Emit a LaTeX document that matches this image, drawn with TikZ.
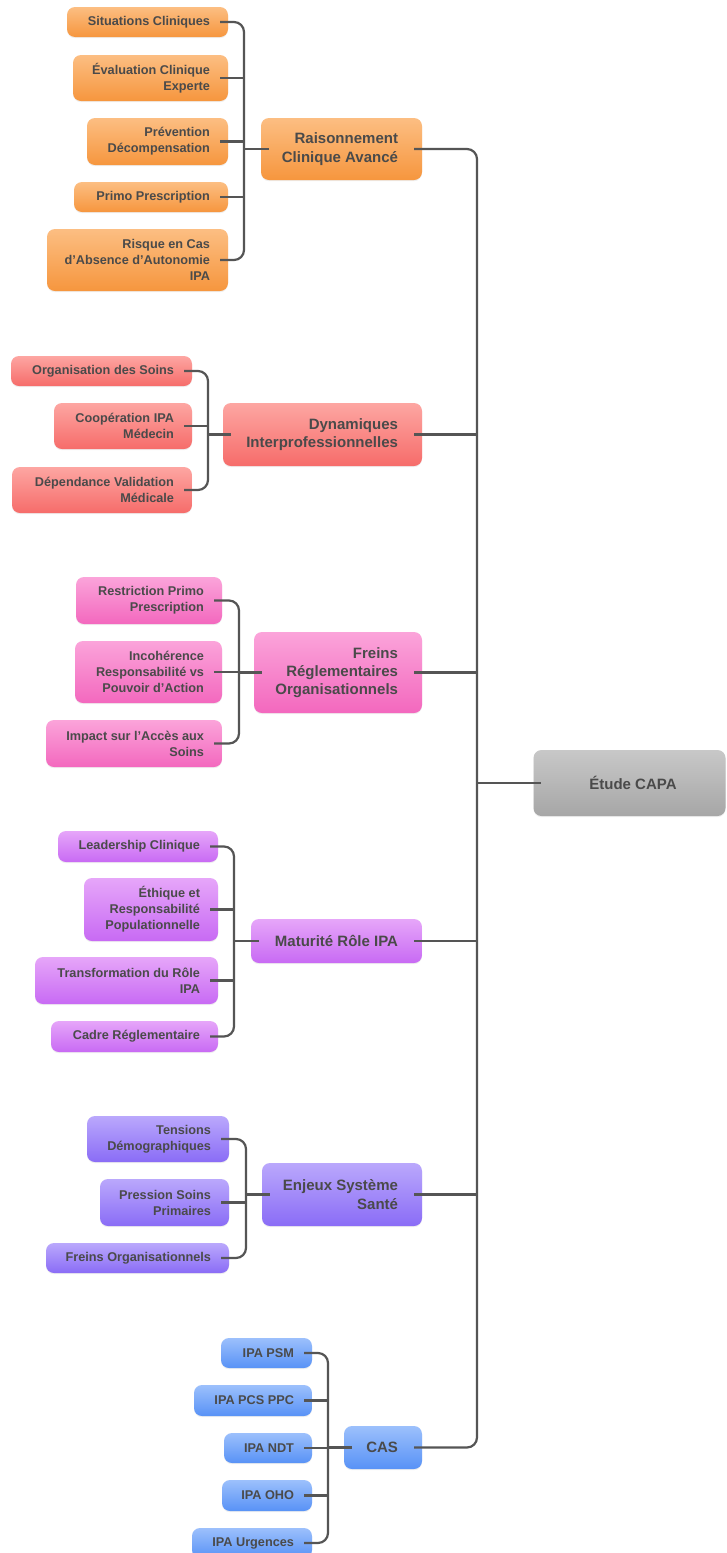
\documentclass[tikz,border=0pt]{standalone}
\usepackage{fontspec}
\setmainfont{Liberation Sans}
\usetikzlibrary{shadows}
\definecolor{txtc}{HTML}{4A4A4A}
\definecolor{linec}{HTML}{555555}
\tikzset{
  card/.style={rounded corners=8pt, inner sep=0pt, draw=none,
    drop shadow={opacity=0.12, shadow xshift=0pt, shadow yshift=-1.2pt}},
  lbl/.style={align=right, inner sep=0pt, text=txtc,
    font=\fontsize{12.7}{16}\selectfont\bfseries},
  mainlbl/.style={align=right, inner sep=0pt, text=txtc,
    font=\fontsize{15}{18.3}\selectfont\bfseries},
  conn/.style={draw=linec, line width=2.2pt, rounded corners=10pt},
  orangec/.style={top color={rgb,255:red,252;green,190;blue,130}, bottom color={rgb,255:red,246;green,150;blue,62}},
  redc/.style={top color={rgb,255:red,253;green,166;blue,162}, bottom color={rgb,255:red,246;green,108;blue,106}},
  pinkc/.style={top color={rgb,255:red,251;green,164;blue,218}, bottom color={rgb,255:red,243;green,104;blue,190}},
  purplec/.style={top color={rgb,255:red,230;green,166;blue,249}, bottom color={rgb,255:red,200;green,106;blue,244}},
  violetc/.style={top color={rgb,255:red,186;green,168;blue,252}, bottom color={rgb,255:red,138;green,108;blue,246}},
  bluec/.style={top color={rgb,255:red,156;green,192;blue,252}, bottom color={rgb,255:red,88;green,146;blue,246}},
  greyc/.style={top color={rgb,255:red,200;green,200;blue,200}, bottom color={rgb,255:red,166;green,166;blue,166}},
}
% #1 name, #2 x1, #3 y1, #4 x2, #5 y2, #6 colour style, #7 label style, #8 right padding, #9 text
\newcommand{\cardnode}[9]{%
  \pgfmathsetmacro{\cardw}{#4-#2}\pgfmathsetmacro{\cardh}{#5-#3}%
  \node[card,#6,minimum width=\cardw pt,minimum height=\cardh pt] (#1) at ({(#2+#4)/2},{(#3+#5)/2}) {};
  \node[#7,anchor=east] (#1-t) at ([xshift=-#8pt]#1.east) {#9};}
\begin{document}
\begin{tikzpicture}[x=1pt,y=-1pt]
\useasboundingbox[fill=white] (0,0) rectangle (726,1553);
% Raisonnement Clinique Avancé
\cardnode{sc}{67}{7}{228}{37}{orangec}{lbl}{18}{Situations Cliniques}
\cardnode{ec}{73}{55}{228}{101}{orangec}{lbl}{18}{Évaluation Clinique\\Experte}
\cardnode{pd}{87}{118}{228}{165}{orangec}{lbl}{18}{Prévention\\Décompensation}
\cardnode{pp}{74}{182}{228}{212}{orangec}{lbl}{18}{Primo Prescription}
\cardnode{ra}{47}{229}{228}{291}{orangec}{lbl}{18}{Risque en Cas\\d’Absence d’Autonomie\\IPA}
\cardnode{rca}{261}{118}{422}{180}{orangec}{mainlbl}{24}{Raisonnement\\Clinique Avancé}
% Dynamiques
\cardnode{os}{11}{356}{192}{386}{redc}{lbl}{18}{Organisation des Soins}
\cardnode{ci}{54}{403}{192}{449}{redc}{lbl}{18}{Coopération IPA\\Médecin}
\cardnode{dv}{12}{467}{192}{513}{redc}{lbl}{18}{Dépendance Validation\\Médicale}
\cardnode{di}{223}{403}{422}{466}{redc}{mainlbl}{24}{Dynamiques\\Interprofessionnelles}
% Freins
\cardnode{rp}{76}{577}{222}{624}{pinkc}{lbl}{18}{Restriction Primo\\Prescription}
\cardnode{ir}{75}{641}{222}{703}{pinkc}{lbl}{18}{Incohérence\\Responsabilité vs\\Pouvoir d'Action}
\cardnode{ia}{46}{720}{222}{767}{pinkc}{lbl}{18}{Impact sur l'Accès aux\\Soins}
\cardnode{fr}{254}{632}{422}{713}{pinkc}{mainlbl}{24}{Freins\\Réglementaires\\Organisationnels}
% Maturité
\cardnode{lc}{58}{831}{218}{862}{purplec}{lbl}{18}{Leadership Clinique}
\cardnode{er}{84}{878}{218}{941}{purplec}{lbl}{18}{Éthique et\\Responsabilité\\Populationnelle}
\cardnode{tr}{35}{957}{218}{1004}{purplec}{lbl}{18}{Transformation du Rôle\\IPA}
\cardnode{cr}{51}{1021}{218}{1052}{purplec}{lbl}{18}{Cadre Réglementaire}
\cardnode{mr}{251}{919}{422}{963}{purplec}{mainlbl}{24}{Maturité Rôle IPA}
% Enjeux
\cardnode{td}{87}{1116}{229}{1162}{violetc}{lbl}{18}{Tensions\\Démographiques}
\cardnode{ps}{100}{1179}{229}{1226}{violetc}{lbl}{18}{Pression Soins\\Primaires}
\cardnode{fo}{46}{1243}{229}{1273}{violetc}{lbl}{18}{Freins Organisationnels}
\cardnode{es}{262}{1163}{422}{1226}{violetc}{mainlbl}{24}{Enjeux Système\\Santé}
% CAS
\cardnode{psm}{221}{1338}{312}{1368}{bluec}{lbl}{18}{IPA PSM}
\cardnode{pcs}{194}{1385}{312}{1416}{bluec}{lbl}{18}{IPA PCS PPC}
\cardnode{ndt}{224}{1433}{312}{1463}{bluec}{lbl}{18}{IPA NDT}
\cardnode{oho}{222}{1480}{312}{1511}{bluec}{lbl}{18}{IPA OHO}
\cardnode{urg}{192}{1528}{312}{1558}{bluec}{lbl}{18}{IPA Urgences}
\cardnode{cas}{344}{1426}{422}{1469}{bluec}{mainlbl}{24}{CAS}
% Root
\node[card,greyc,minimum width=192pt,minimum height=66pt] (root) at (629.5,783) {};
\node[mainlbl] (root-t) at (633,783) {Étude CAPA};
% buses
\coordinate (rcb) at (244,149);
\coordinate (dib) at (208,434.5);
\coordinate (frb) at (239,672.5);
\coordinate (mrb) at (234,941);
\coordinate (esb) at (246,1194.5);
\coordinate (casb) at (328,1447.5);
\coordinate (trk) at (477,783);
% orange
\draw[conn] ([xshift=-8pt]sc.east) -| (rcb) |- ([xshift=-8pt]ra.east);
\draw[conn] ([xshift=-8pt]ec.east) -- (ec.east -| rcb);
\draw[conn] ([xshift=-8pt]pd.east) -- (pd.east -| rcb);
\draw[conn] ([xshift=-8pt]pp.east) -- (pp.east -| rcb);
\draw[conn] (rcb) -- ([xshift=8pt]rca.west);
% red
\draw[conn] ([xshift=-8pt]os.east) -| (dib) |- ([xshift=-8pt]dv.east);
\draw[conn] ([xshift=-8pt]ci.east) -- (ci.east -| dib);
\draw[conn] (dib) -- ([xshift=8pt]di.west);
% pink
\draw[conn] ([xshift=-8pt]rp.east) -| (frb) |- ([xshift=-8pt]ia.east);
\draw[conn] ([xshift=-8pt]ir.east) -- (ir.east -| frb);
\draw[conn] (frb) -- ([xshift=8pt]fr.west);
% purple
\draw[conn] ([xshift=-8pt]lc.east) -| (mrb) |- ([xshift=-8pt]cr.east);
\draw[conn] ([xshift=-8pt]er.east) -- (er.east -| mrb);
\draw[conn] ([xshift=-8pt]tr.east) -- (tr.east -| mrb);
\draw[conn] (mrb) -- ([xshift=8pt]mr.west);
% violet
\draw[conn] ([xshift=-8pt]td.east) -| (esb) |- ([xshift=-8pt]fo.east);
\draw[conn] ([xshift=-8pt]ps.east) -- (ps.east -| esb);
\draw[conn] (esb) -- ([xshift=8pt]es.west);
% blue
\draw[conn] ([xshift=-8pt]psm.east) -| (casb) |- ([xshift=-8pt]urg.east);
\draw[conn] ([xshift=-8pt]pcs.east) -- (pcs.east -| casb);
\draw[conn] ([xshift=-8pt]ndt.east) -- (ndt.east -| casb);
\draw[conn] ([xshift=-8pt]oho.east) -- (oho.east -| casb);
\draw[conn] (casb) -- ([xshift=8pt]cas.west);
% trunk
\draw[conn] ([xshift=-8pt]rca.east) -| (trk) |- ([xshift=-8pt]cas.east);
\draw[conn] ([xshift=-8pt]di.east) -- (di.east -| trk);
\draw[conn] ([xshift=-8pt]fr.east) -- (fr.east -| trk);
\draw[conn] ([xshift=-8pt]mr.east) -- (mr.east -| trk);
\draw[conn] ([xshift=-8pt]es.east) -- (es.east -| trk);
\draw[conn] (trk) -- ([xshift=8pt]root.west);
\end{tikzpicture}
\end{document}
